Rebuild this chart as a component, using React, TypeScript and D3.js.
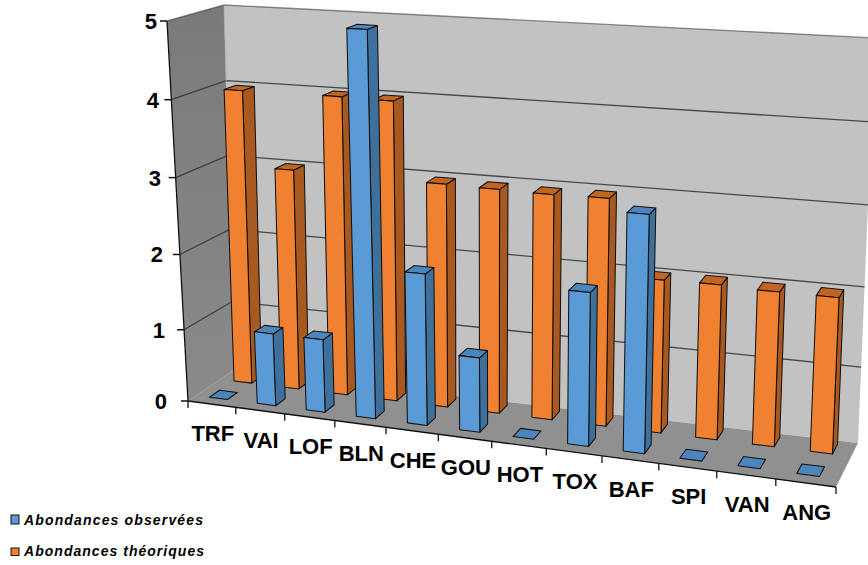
import React from "react";
import * as d3 from "d3";

const categories = ["TRF","VAI","LOF","BLN","CHE","GOU","HOT","TOX","BAF","SPI","VAN","ANG"];
const observed = [0,1,1,5,2,1,0,1.98,3,0,0,0];
const theoretical = [3.97,2.98,3.98,3.97,2.96,2.95,2.94,2.95,1.99,2,1.98,1.98];
const yTicks = [0,1,2,3,4,5];
const seriesNames = ["Abondances observées","Abondances théoriques"];

type Pt = [number, number];
// projected corners of the 3-D box: F front / B back, L left / R right, b bottom / t top
const Fb: Pt[] = [[188,401],[836,487]];
const Bb: Pt[] = [[234,370],[858,443]];
const Ft: Pt[] = [[167,21],[856,64]];
const Bt: Pt[] = [[224,5],[875,38]];

const band = d3.scaleBand<string>().domain(categories).range([0,12]);
const uLinear = d3.scaleLinear().domain([0,12]).range([0,1]);
const perspectiveK = 0.125;
const uScale = (v: number) => { const u = uLinear(v); return u - perspectiveK*u*(1-u); };
const hScale = d3.scalePow().exponent(1.04).domain([0,5]).range([0,1]);
const labelRight = d3.scaleLinear().domain([0,5]).range([167,157]);

const lerp = (a: Pt, b: Pt, t: number): Pt => [a[0]+(b[0]-a[0])*t, a[1]+(b[1]-a[1])*t];
function project(uv: number, w: number, h: number): Pt {
  const u = uScale(uv), t = hScale(h);
  const fb = lerp(Fb[0],Fb[1],u), bb = lerp(Bb[0],Bb[1],u);
  const ft = lerp(Ft[0],Ft[1],u), bt = lerp(Bt[0],Bt[1],u);
  return lerp(lerp(fb,bb,w), lerp(ft,bt,w), t);
}
const line = d3.line<Pt>();
const poly = (pts: Pt[]) => line(pts)! + "Z";

const STYLES = {
  blue: { front:"#5B9BD5", side:"#3F6F9B", top:"#4A86BC" },
  orange: { front:"#EF8130", side:"#A9591F", top:"#C4651F" },
};

function Bar({ cat, v, u0, u1, w0, w1, c }: any) {
  const i = band(cat)!;
  const a = i+u0, b = i+u1;
  const edge = { stroke:"#111", strokeWidth:1.05, strokeLinejoin:"round" as const };
  if (v === 0) {
    return <path d={poly([project(a,w0,0),project(b,w0,0),project(b,w1,0),project(a,w1,0)])} fill={c.top} {...edge}/>;
  }
  return <g>
    <path d={poly([project(b,w0,0),project(b,w1,0),project(b,w1,v),project(b,w0,v)])} fill={c.side} {...edge}/>
    <path d={poly([project(a,w0,v),project(b,w0,v),project(b,w1,v),project(a,w1,v)])} fill={c.top} {...edge}/>
    <path d={poly([project(a,w0,0),project(b,w0,0),project(b,w0,v),project(a,w0,v)])} fill={c.front} {...edge}/>
  </g>;
}

export default function App() {
  const font = "'Liberation Sans', Arial, sans-serif";
  const rev = categories.map((_, i) => categories.length-1-i);
  return (
    <svg width={868} height={565} style={{position:"absolute",left:0,top:0,background:"#fff"}} fontFamily={font}>
      <defs>
        <linearGradient id="wall" x1="0" y1="0" x2="0" y2="1">
          <stop offset="0" stopColor="#7a7a7a"/><stop offset="1" stopColor="#8a8a8a"/>
        </linearGradient>
      </defs>
      <path d={poly([project(0,0,0),project(0,1,0),project(0,1,5),project(0,0,5)])} fill="url(#wall)"/>
      <path d={poly([project(0,1,0),project(12,1,0),project(12,1,5),project(0,1,5)])} fill="#C2C2C2"/>
      <path d={poly([project(0,0,0),project(12,0,0),project(12,1,0),project(0,1,0)])} fill="#909090"/>
      {yTicks.filter(t=>t>0).map(t=>(
        <path key={t} d={line([project(0,0,t),project(0,1,t),project(12,1,t)])!} fill="none" stroke="#333" strokeWidth={1.3} opacity={t===5?0.55:0.85}/>
      ))}
      <path d={line([project(0,1,5),project(0,1,0)])!} fill="none" stroke="#aaa" strokeWidth={0.8}/>
      {rev.map(i=>(
        <Bar key={"t"+i} cat={categories[i]} v={theoretical[i]} u0={0.30} u1={0.68} w0={0.70} w1={0.92} c={STYLES.orange}/>
      ))}
      {rev.map(i=>(
        <Bar key={"o"+i} cat={categories[i]} v={observed[i]} u0={0.28} u1={0.66} w0={0.18} w1={0.40} c={STYLES.blue}/>
      ))}
      {/* axes */}
      <path d={line([project(0,0,0),project(12,0,0)])!} fill="none" stroke="#111" strokeWidth={1.3}/>
      <path d={line([project(0,0,0),project(0,0,5)])!} fill="none" stroke="#111" strokeWidth={1.3}/>
      {d3.range(13).map(i=>{
        const p = project(i,0,0);
        return <line key={i} x1={p[0]} y1={p[1]} x2={p[0]} y2={p[1]+7} stroke="#111" strokeWidth={1.3}/>;
      })}
      {yTicks.map(t=>{
        const p = project(0,0,t);
        return <g key={t}>
          <line x1={p[0]-7} y1={p[1]} x2={p[0]} y2={p[1]} stroke="#111" strokeWidth={1.5}/>
          <text x={labelRight(t)} y={p[1]+8} textAnchor="end" fontSize={22} fontWeight="bold" fill="#000">{t}</text>
        </g>;
      })}
      {categories.map(c=>{
        const p = project(band(c)!+band.bandwidth()/2,0,0);
        return <text key={c} x={p[0]+1} y={p[1]+37} textAnchor="middle" fontSize={22} fontWeight="bold" fill="#000">{c}</text>;
      })}
      {/* legend */}
      {seriesNames.map((n,i)=>{
        const c = i===0?STYLES.blue:STYLES.orange;
        const sy = i===0?515:548;
        return <g key={n}>
          <rect x={11} y={sy} width={8} height={i===0?9:7.5} fill={c.front} stroke="#111" strokeWidth={1}/>
          <text x={24} y={i===0?525:556} fontSize={14} fontWeight="bold" fontStyle="italic" fill="#000" textLength={i===0?179:180} lengthAdjust="spacing">{n}</text>
        </g>;
      })}
    </svg>
  );
}
